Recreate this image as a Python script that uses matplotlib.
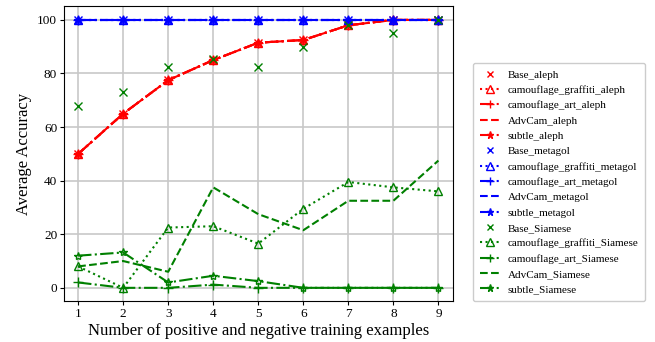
import matplotlib
matplotlib.use("Agg")
import matplotlib.pyplot as plt

plt.rcParams['font.family'] = ['Liberation Serif', 'DejaVu Serif']
plt.rcParams['mathtext.fontset'] = 'stix'

examples = [1, 2, 3, 4, 5, 6, 7, 8, 9]

# aleph results
base_aleph = [50, 65, 77.5, 85, 91.5, 92.5, 98, 100, 100]
graffiti_aleph = [50, 65, 77.5, 85, 91.5, 92.5, 98, 100, 100]
art_aleph = [50, 65, 77.5, 85, 91.5, 92.5, 98, 100, 100]
advcam_aleph = [50, 65, 77.5, 85, 91.5, 92.5, 98, 100, 100]
subtle_aleph = [50, 65, 77.5, 85, 91.5, 92.5, 98, 100, 100]

# metagol results
base_metagol = [100, 100, 100, 100, 100, 100, 100, 100, 100]
graffiti_metagol = [100, 100, 100, 100, 100, 100, 100, 100, 100]
art_metagol = [100, 100, 100, 100, 100, 100, 100, 100, 100]
advcam_metagol = [100, 100, 100, 100, 100, 100, 100, 100, 100]
subtle_metagol = [100, 100, 100, 100, 100, 100, 100, 100, 100]

# Siamese network results
base_siamese = [68, 73, 82.5, 85.5, 82.5, 90, 98, 95, 100]
graffiti_siamese = [8, 0, 22.5, 23, 16.5, 29.5, 39.5, 37.5, 36]
art_siamese = [2, 0, 0, 1.2, 0, 0, 0, 0, 0]
advcam_siamese = [8, 10, 6, 37.5, 27.5, 21.5, 32.5, 32.5, 47.5]
subtle_siamese = [12, 13.2, 2, 4.5, 2.5, 0, 0, 0, 0]

fig = plt.figure(figsize=(6.55, 3.42), dpi=100)
ax = fig.add_axes([0.098, 0.12, 0.594, 0.8625])

groups = [
    ('aleph', 'red', base_aleph, graffiti_aleph, art_aleph, advcam_aleph, subtle_aleph),
    ('metagol', 'blue', base_metagol, graffiti_metagol, art_metagol, advcam_metagol, subtle_metagol),
    ('Siamese', 'green', base_siamese, graffiti_siamese, art_siamese, advcam_siamese, subtle_siamese),
]

for name, c, base, graf, art, adv, sub in groups:
    ax.plot(examples, base, 'x', color=c, markersize=5.5, label='Base_' + name)
    ax.plot(examples, graf, ':', marker='^', markerfacecolor='none', color=c,
            markersize=6, label='camouflage_graffiti_' + name)
    ax.plot(examples, art, '-.', marker='+', color=c, markersize=7,
            label='camouflage_art_' + name)
    ax.plot(examples, adv, '--', color=c, label='AdvCam_' + name)
    ax.plot(examples, sub, '-.', marker='*', markerfacecolor='none', color=c,
            markersize=6, label='subtle_' + name)

ax.set_xlim(0.69, 9.33)
ax.set_ylim(-4.9, 105.2)
ax.set_xticks(examples)
ax.set_yticks([0, 20, 40, 60, 80, 100])
ax.grid(True, color='#c8c8c8', linewidth=1.2)
ax.set_axisbelow(True)
ax.tick_params(labelsize=9.5, length=3, pad=2)
ax.set_xlabel('Number of positive and negative training examples', fontsize=12, labelpad=2)
ax.set_ylabel('Average Accuracy', fontsize=12, labelpad=4)

fig.legend(loc='lower left', bbox_to_anchor=(0.714, 0.104), fontsize=8,
           labelspacing=0.5, handlelength=1.8, handletextpad=0.7, borderpad=0.6,
           framealpha=1, edgecolor='#cccccc', markerscale=0.85)

fig.savefig('out.png', dpi=100)
